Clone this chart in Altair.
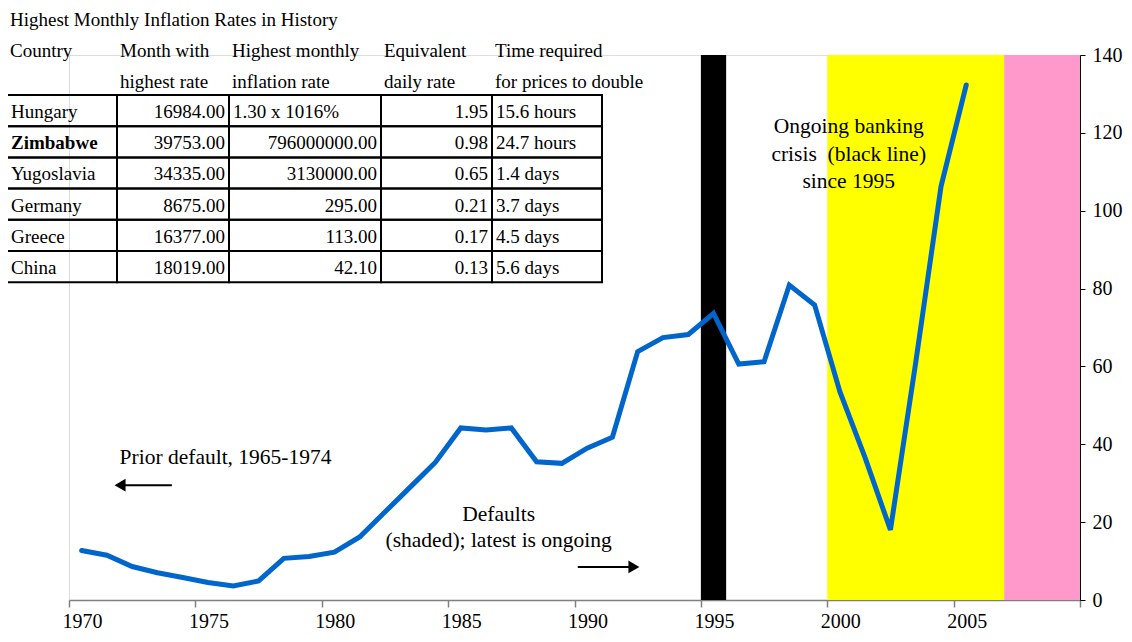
import altair as alt
import pandas as pd

# ---------------- data ----------------
years = list(range(1970, 2006))
index_values = [12.7, 11.5, 8.6, 7.0, 5.8, 4.5, 3.6, 4.9, 10.7, 11.2,
                12.3, 16.2, 22.6, 29.0, 35.4, 44.2, 43.7, 44.2, 35.5, 35.1,
                39.0, 41.8, 63.8, 67.4, 68.2, 73.6, 60.6, 61.2, 80.9, 75.8,
                53.5, 36.5, 18.0, 61.0, 106.2, 132.3]

band_start = [1995, 2000, 2007]
band_end = [1996, 2007, 2010]
band_kind = ["Banking crisis", "Default", "Default, ongoing"]

table_title = "Highest Monthly Inflation Rates in History"
header_line1 = ["Country", "Month with", "Highest monthly", "Equivalent", "Time required"]
header_line2 = ["", "highest rate", "\u00a0inflation rate", "daily rate", "for prices to double"]
countries = ["Hungary", "Zimbabwe", "Yugoslavia", "Germany", "Greece", "China"]
month_highest = ["16984.00", "39753.00", "34335.00", "8675.00", "16377.00", "18019.00"]
highest_monthly_rate = ["1.30 x 1016%", "796000000.00", "3130000.00", "295.00", "113.00", "42.10"]
daily_rate = ["1.95", "0.98", "0.65", "0.21", "0.17", "0.13"]
doubling_time = ["15.6 hours", "24.7 hours", "1.4 days", "3.7 days", "4.5 days", "5.6 days"]
bold_country = "Zimbabwe"

note_text = ["Ongoing banking", "crisis \u00a0(black line)", "since 1995",
             "Prior default, 1965-1974", "Defaults", "(shaded); latest is ongoing"]
note_year = [2000.85, 2000.85, 2000.85, 1972.0, 1987.0, 1987.0]
note_value = [121.5, 114.3, 107.4, 36.5, 21.8, 15.2]
note_align = ["center", "center", "center", "left", "center", "center"]

arrow_from = [1974.07, 1990.13]
arrow_to = [1972.02, 1992.35]
arrow_value = [29.5, 8.5]

# ---------------- layout / style ----------------
FONT = "Liberation Serif"
W, H = 1011, 545
COL_EDGES = [-62, 48, 160, 312, 423, 533]
ROW_TOP, ROW_H = 40, 31.2
TITLE_BASE = -29
HEAD_BASE = [2, 33]
PAD = 4
BAND_COLORS = ["#000000", "#FFFF00", "#FF99CC"]
LINE_COLOR = "#0066CC"

# ---------------- main chart ----------------
line_df = pd.DataFrame({"year": years, "value": index_values})
band_df = pd.DataFrame({"start": band_start, "end": band_end, "kind": band_kind})
notes_df = pd.DataFrame({"x": note_year, "y": note_value, "text": note_text, "align": note_align})
arrow_df = pd.DataFrame({"x1": arrow_from, "x2": arrow_to, "y": arrow_value})

xscale = alt.Scale(domain=[1970, 2010], nice=False, zero=False)
yscale = alt.Scale(domain=[0, 140], nice=False, zero=True)

xaxis = alt.Axis(values=list(range(1970, 2011, 5)), format="d",
                 labelExpr="datum.value >= 2010 ? '' : datum.label",
                 labelOffset=13, tickSize=7, labelPadding=4,
                 domainColor="#808080", tickColor="#808080", domainWidth=1.5, tickWidth=1.5,
                 labelFont=FONT, labelFontSize=20, labelColor="black",
                 grid=False, title=None, labelFlush=False, labelOverlap=False)
yaxis = alt.Axis(orient="right", values=list(range(0, 141, 20)),
                 tickSize=5, labelPadding=7, domainColor="black", tickColor="black",
                 labelFont=FONT, labelFontSize=20, labelColor="black",
                 grid=False, title=None)

bands = alt.Chart(band_df).mark_rect().encode(
    x=alt.X("start:Q", scale=xscale, axis=xaxis),
    x2="end:Q",
    y=alt.Y("y0:Q", scale=yscale, axis=yaxis),
    y2="y1:Q",
    color=alt.Color("kind:N", scale=alt.Scale(domain=band_kind, range=BAND_COLORS), legend=None),
).transform_calculate(y0="0", y1="140")

line = alt.Chart(line_df).transform_calculate(
    xpos="datum.year + 0.5"
).mark_line(color=LINE_COLOR, strokeWidth=5, strokeCap="round").encode(
    x=alt.X("xpos:Q", scale=xscale, title=None),
    y=alt.Y("value:Q", scale=yscale, title=None),
)

notes_center = alt.Chart(notes_df).transform_filter("datum.align == 'center'").mark_text(
    font=FONT, fontSize=21.5, align="center", baseline="middle", color="black"
).encode(x="x:Q", y="y:Q", text="text:N")

notes_left = alt.Chart(notes_df).transform_filter("datum.align == 'left'").mark_text(
    font=FONT, fontSize=21.5, align="left", baseline="middle", color="black"
).encode(x="x:Q", y="y:Q", text="text:N")

arrow_rules = alt.Chart(arrow_df).mark_rule(color="black", strokeWidth=2).encode(
    x="x1:Q", x2="x2:Q", y="y:Q")

arrow_left = alt.Chart(arrow_df).transform_filter("datum.x2 < datum.x1").mark_point(
    shape="triangle-left", filled=True, color="black", size=160, opacity=1
).encode(x="x2:Q", y="y:Q")

arrow_right = alt.Chart(arrow_df).transform_filter("datum.x2 > datum.x1").mark_point(
    shape="triangle-right", filled=True, color="black", size=160, opacity=1
).encode(x="x2:Q", y="y:Q")

main = alt.layer(bands, line, notes_center, notes_left, arrow_rules, arrow_left, arrow_right)

# ---------------- table ----------------
def is_number(s):
    try:
        float(s)
        return True
    except ValueError:
        return False

columns = [countries, month_highest, highest_monthly_rate, daily_rate, doubling_time]
cell_rows, text_rows = [], []
for r in range(len(countries)):
    top = ROW_TOP + r * ROW_H
    for c in range(5):
        left, right = COL_EDGES[c], COL_EDGES[c + 1]
        cell_rows.append({"x": left, "x2": right, "y": top, "y2": top + ROW_H})
        t = columns[c][r]
        num = is_number(t)
        text_rows.append({
            "tx": right - PAD if num else left + PAD,
            "ty": top + 23,
            "text": t,
            "align": "right" if num else "left",
            "bold": (c == 0 and t == bold_country),
        })
text_rows.append({"tx": COL_EDGES[0] + 3, "ty": TITLE_BASE, "text": table_title, "align": "left", "bold": False})
for c in range(5):
    for k, hdr in enumerate([header_line1, header_line2]):
        if hdr[c]:
            text_rows.append({"tx": COL_EDGES[c] + 3, "ty": HEAD_BASE[k], "text": hdr[c],
                              "align": "left", "bold": False})

cells_df = pd.DataFrame(cell_rows)
texts_df = pd.DataFrame(text_rows)

txs = alt.Scale(domain=[0, 1000], range=[0, 1000], nice=False, zero=False)
tys = alt.Scale(domain=[0, 1000], range=[0, 1000], nice=False, zero=False)

cells = alt.Chart(cells_df).mark_rect(fill="transparent", stroke="black", strokeWidth=2).encode(
    x=alt.X("x:Q", scale=txs, axis=None), x2="x2:Q",
    y=alt.Y("y:Q", scale=tys, axis=None), y2="y2:Q")

def tlayer(flt, align, weight):
    return alt.Chart(texts_df).transform_filter(flt).mark_text(
        font=FONT, fontSize=19, align=align, baseline="alphabetic", color="black", fontWeight=weight
    ).encode(x=alt.X("tx:Q", scale=txs, axis=None), y=alt.Y("ty:Q", scale=tys, axis=None), text="text:N")

t_left = tlayer("datum.align == 'left' && !datum.bold", "left", "normal")
t_bold = tlayer("datum.align == 'left' && datum.bold", "left", "bold")
t_right = tlayer("datum.align == 'right'", "right", "normal")

table = alt.layer(cells, t_left, t_bold, t_right)

chart = alt.layer(main, table).resolve_scale(x="independent", y="independent").properties(
    width=W, height=H,
    autosize=alt.AutoSizeParams(type="none"),
    padding={"left": 61, "top": 47, "right": 44, "bottom": 32},
).configure_view(strokeWidth=0, stroke="transparent").configure(background="white")

chart.save("out.html", embed_options={"renderer": "svg", "actions": False})
